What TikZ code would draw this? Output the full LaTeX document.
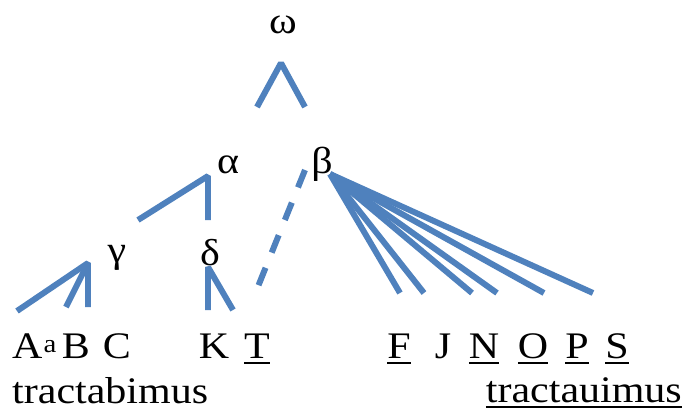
\documentclass[tikz,border=0pt]{standalone}
\usepackage{fontspec}
\setmainfont{Liberation Serif}[FakeStretch=1.12]
\usepackage{tikz}
\usetikzlibrary{positioning}
\definecolor{treeblue}{RGB}{79,129,189}
\newcommand{\undl}[1]{\sbox0{#1}\leavevmode\rlap{\rule[-5.5pt]{\wd0}{2.5pt}}\usebox0}

\begin{document}
\begin{tikzpicture}[x=0.03cm,y=-0.03cm,
  branch/.style={line width=5.1pt,color=treeblue,line join=bevel},
  lbl/.style={anchor=base,inner sep=0pt,font=\fontsize{32}{38}\selectfont}]
  \useasboundingbox (0,0) rectangle (684,411); % 全体の大きさ
  % ギリシャ文字の節点
  \node[lbl] (omega) at (283,33) {ω};
  \node[lbl] (alpha) at (228,173) {α};
  \node[lbl] (beta) at (322,173) {β};
  \node[lbl] (gamma) at (117,262) {γ};
  \node[lbl] (delta) at (210,265) {δ};
  % 枝の端点
  \coordinate (omega-top) at (281,63);
  \coordinate (omega-l) at (257,107);
  \coordinate (omega-r) at (305,107);
  \coordinate (alpha-top) at (208,176);
  \coordinate (alpha-l) at (138,220);
  \coordinate (alpha-r) at (208,220);
  \coordinate (gamma-top) at (88,263);
  \coordinate (gamma-1) at (17,311);
  \coordinate (gamma-2) at (66,307);
  \coordinate (gamma-3) at (88,307);
  \coordinate (delta-top) at (208,267);
  \coordinate (delta-l) at (208,310);
  \coordinate (delta-r) at (233,310);
  \coordinate (beta-dash) at (305,170);
  \coordinate (delta-dash) at (257,289);
  \coordinate (beta-root) at (330,174);
  \coordinate (beta-F) at (400,293);
  \coordinate (beta-J) at (424,293);
  \coordinate (beta-N) at (472,293);
  \coordinate (beta-O) at (497,293);
  \coordinate (beta-P) at (544,293);
  \coordinate (beta-S) at (593,293);
  % 枝
  \draw[branch] (omega-l) -- (omega-top) -- (omega-r); % ωの下の山形
  \draw[branch] (alpha-l) -- (alpha-top) -- (alpha-r); % αの枝
  \draw[branch] (gamma-1) -- (gamma-top) -- (gamma-3); % γの外側の枝
  \draw[branch] (gamma-top) -- (gamma-2); % γの中央の枝
  \draw[branch] (delta-l) -- (delta-top) -- (delta-r); % δの枝
  \draw[branch,dash pattern=on 16pt off 14pt] (beta-dash) -- (delta-dash); % βからTへの破線
  \foreach \leaf in {F,J,N,O,P,S}
    \draw[branch] (beta-root) -- (beta-\leaf); % βから広がる六本の枝
  % 下の文字列
  \node[lbl,anchor=base west] (A) at (12,358) {A\hspace{1pt}\raisebox{5pt}{\fontsize{22}{24}\selectfont a}};
  \node[lbl] (B) at (76,358) {B};
  \node[lbl] (C) at (117,358) {C};
  \node[lbl] (K) at (214,358) {K};
  \node[lbl] (T) at (257,358) {\undl{T}};
  \node[lbl] (F) at (399,358) {\undl{F}};
  \node[lbl] (J) at (443,358) {J};
  \node[lbl] (N) at (484,358) {\undl{N}};
  \node[lbl] (O) at (533,358) {\undl{O}};
  \node[lbl] (P) at (577,358) {\undl{P}};
  \node[lbl] (S) at (617,358) {\undl{S}};
  \node[lbl,anchor=base west] (tractabimus) at (12,403) {tractabimus};
  \node[lbl,anchor=base east] (tractauimus) at (682,402) {\undl{tractauimus}};
\end{tikzpicture}
\end{document}
